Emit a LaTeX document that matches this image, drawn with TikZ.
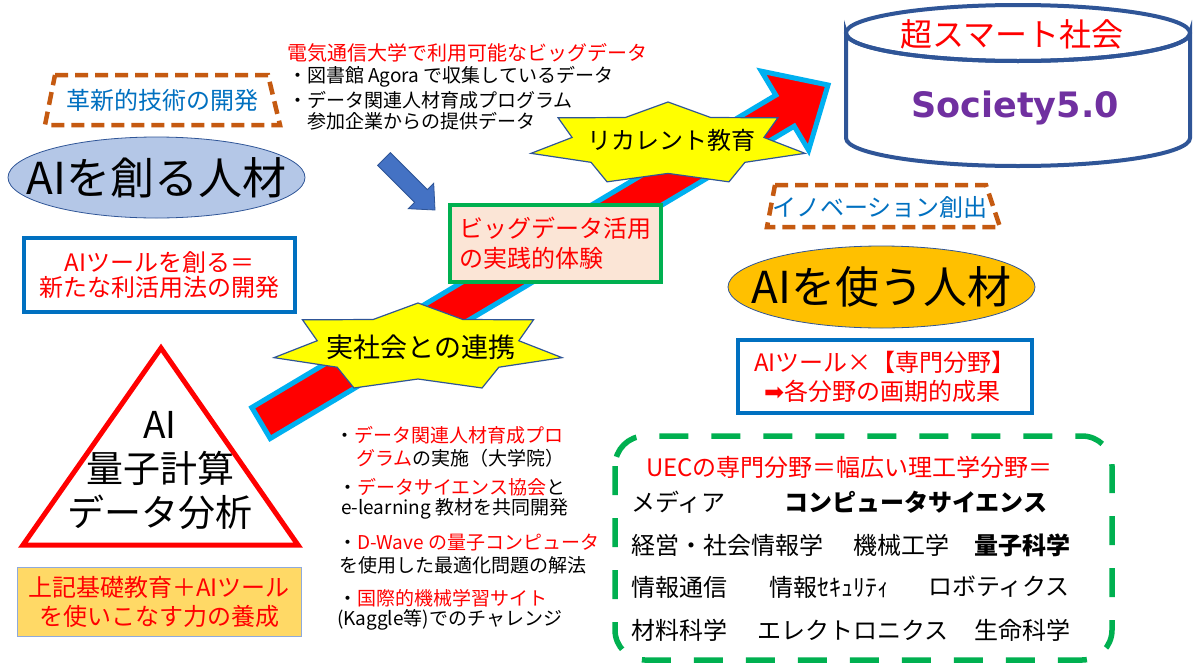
\documentclass[tikz,border=0pt]{standalone}
\usepackage{fontspec}
\setmainfont{Noto Sans CJK JP}
\newfontfamily\dvs{DejaVu Sans}
\usetikzlibrary{shapes.geometric,calc}
\definecolor{arrred}{HTML}{FF0000}
\definecolor{arrcyan}{HTML}{00B0F0}
\definecolor{staryel}{HTML}{FFFF00}
\definecolor{darkblue}{HTML}{2F5597}
\definecolor{grn}{HTML}{00B050}
\definecolor{peach}{HTML}{FBE5D6}
\definecolor{brn}{HTML}{C55A11}
\definecolor{tblue}{HTML}{0070C0}
\definecolor{lblue}{HTML}{B4C7E7}
\definecolor{gold}{HTML}{FFC000}
\definecolor{lgold}{HTML}{FFD966}
\definecolor{edgeblue}{HTML}{8FAADC}
\definecolor{midblue}{HTML}{4472C4}
\definecolor{purp}{HTML}{7030A0}
\definecolor{tred}{HTML}{FF0000}
\newcommand\fsz[2]{\fontsize{#1pt}{#2pt}\selectfont}
\tikzset{
  bigarrow/.style={fill=arrred, draw=arrcyan, line width=5pt, line join=miter},
  starsty/.style={fill=staryel, draw=darkblue, line width=1.2pt, line join=miter},
  dashtrap/.style={draw=brn, line width=4.5pt, dash pattern=on 13pt off 7pt},
  bluebox/.style={draw=tblue, line width=4pt, fill=white},
  txt/.style={inner sep=0pt, outer sep=0pt},
}
\begin{document}
\begin{tikzpicture}[x=1pt,y=-1pt]
\useasboundingbox[fill=white] (0,0) rectangle (1193,664);

% big red arrow
\filldraw[bigarrow] (251.8,407.5) -- (775.8,95.2) -- (761.4,71.2) -- (828,85) -- (808.6,150.2) -- (794.2,126.2) -- (270.2,438.5) -- cycle;

% small blue arrow
\filldraw[fill=midblue, draw=darkblue, line width=0.8pt] (390.4,152.6) -- (427.4,189.6) -- (433.7,183.3) -- (435,210) -- (408.3,208.7) -- (414.6,202.4) -- (377.6,165.4) -- cycle;

% stars
\begin{scope}[shift={(418,347.7)}]
\filldraw[starsty] (-90:147.7 and 44.7) \foreach \k in {1,...,7}{ -- ({-90+(\k-0.5)*360/7}:103.4 and 31.3) -- ({-90+\k*360/7}:147.7 and 44.7)} -- cycle;
\end{scope}
\begin{scope}[shift={(668,144)}]
\filldraw[starsty] (-90:140.5 and 42) \foreach \k in {1,...,7}{ -- ({-90+(\k-0.5)*360/7}:98.4 and 29.4) -- ({-90+\k*360/7}:140.5 and 42)} -- cycle;
\end{scope}
\node[txt, font=\fsz{27}{30}] (renkei) at (421,347) {実社会との連携};
\node[txt, font=\fsz{24}{28}] (recurrent) at (671,140) {リカレント教育};

% green box
\node[draw=grn, fill=peach, line width=4pt, minimum width=211pt, minimum height=77pt, align=left, text=tred, inner sep=0pt, font=\fsz{24}{30}] (bigdata) at (555.5,243.5) {ビッグデータ活用\\の実践的体験};

% top text
\node[txt, anchor=west, text=tred, font=\fsz{20}{24}] (t0) at (287,53) {電気通信大学で利用可能なビッグデータ};
\node[txt, anchor=west, font=\fsz{19}{22}] (t1) at (288,77) {・図書館 Agora で収集しているデータ};
\node[txt, anchor=west, font=\fsz{19}{22}] (t2) at (288,100) {・データ関連人材育成プログラム};
\node[txt, anchor=west, font=\fsz{19}{22}] (t3) at (307,121) {参加企業からの提供データ};

% left column
\draw[dashtrap] (55,75) -- (268,75) -- (280,125) -- (45,125) -- cycle;
\node[txt, text=tblue, font=\fsz{24}{28}] (kakushin) at (162,100) {革新的技術の開発};

\node[ellipse, draw=darkblue, fill=lblue, line width=0.8pt, minimum width=297pt, minimum height=81pt, inner sep=0pt] (tsukuru) at (156.5,177.5) {};
\node[txt, font=\fsz{44}{48}] (tsukurutxt) at (tsukuru.center) {AIを創る人材};

\node[bluebox, minimum width=271pt, minimum height=74pt, align=center, text=tred, inner sep=0pt, font=\fsz{24}{25.5}] (toolbox) at (159.5,275) {AIツールを創る＝\\新たな利活用法の開発};

\draw[draw=red, line width=5pt, line join=miter] (161,348) -- (298,545) -- (23,545) -- cycle;
\node[txt, align=center, font=\fsz{37}{44}] (tri) at (160,471) {AI\\量子計算\\データ分析};

\node[draw=edgeblue, fill=lgold, line width=1pt, minimum width=284pt, minimum height=69pt, align=center, text=tred, inner sep=0pt, font=\fsz{24}{29}] (kiso) at (159,602) {上記基礎教育＋AIツール\\を使いこなす力の養成};

% bottom middle text
\tikzset{mid/.style={txt, anchor=west, font=\fsz{19}{22}}}
\node[mid] (b1) at (335,435) {・\textcolor{tred}{データ関連人材育成プロ}};
\node[mid] (b2) at (356,458) {\textcolor{tred}{グラム}の実施（大学院）};
\node[mid] (b3) at (338,487) {・\textcolor{tred}{データサイエンス協会}と};
\node[mid] (b4) at (341,509) {e-learning 教材を共同開発};
\node[mid] (b5) at (338,543) {・\textcolor{tred}{D-Wave の量子コンピュータ}};
\node[mid] (b6) at (339,565) {を使用した最適化問題の解法};
\node[mid] (b7) at (338,598) {・\textcolor{tred}{国際的機械学習サイト}};
\node[mid] (b8) at (337,620) {(Kaggle等)でのチャレンジ};

% cylinder
\filldraw[fill=white, draw=darkblue, line width=4pt] (846,33) -- (846,138) arc[start angle=180, end angle=0, x radius=172, y radius=28] -- (1190,33) arc[start angle=0, end angle=180, x radius=172, y radius=28] -- cycle;
\draw[draw=darkblue, line width=4pt] (1018,33) ellipse[x radius=172, y radius=28];
\node[txt, text=tred, font=\fsz{32}{36}] (chosmart) at (1012,34) {超スマート社会};
\node[txt, text=purp, font=\dvs\bfseries\fsz{35}{40}] (society) at (1015,108) {Society5.0};

% right column
\draw[dashtrap] (775,185) -- (986,185) -- (1000,227) -- (767,227) -- cycle;
\node[txt, text=tblue, font=\fsz{24}{28}] (innov) at (880,207) {イノベーション創出};

\node[ellipse, draw=darkblue, fill=gold, line width=0.8pt, minimum width=307pt, minimum height=82pt, inner sep=0pt] (tsukau) at (881.5,287) {};
\node[txt, font=\fsz{44}{48}] (tsukautxt) at (tsukau.center) {AIを使う人材};

\node[bluebox, minimum width=294pt, minimum height=73pt, align=left, text=tred, inner sep=0pt, font=\fsz{24}{29}] (senmon) at (885,376.5) {AIツール×【専門分野】\\\hspace*{10pt}{\dvs ➡}各分野の画期的成果};

% green dashed rounded box
\draw[draw=grn, line width=5.5pt, rounded corners=30pt, dash pattern=on 29pt off 23pt] (615,436) rectangle (1112,660);
\tikzset{fld/.style={txt, anchor=west, font=\fsz{24}{28}}}
\node[fld, text=tred] (uec) at (646,467) {UECの専門分野＝幅広い理工学分野＝};
\node[fld] (r1a) at (631,502) {メディア};
\node[fld, font=\fsz{24}{28}\bfseries] (r1b) at (784,502) {コンピュータサイエンス};
\node[fld] (r2a) at (631,545) {経営・社会情報学};
\node[fld] (r2b) at (853,545) {機械工学};
\node[fld, font=\fsz{24}{28}\bfseries] (r2c) at (974,545) {量子科学};
\node[fld] (r3a) at (631,587) {情報通信};
\node[fld] (r3b) at (769,587) {情報ｾｷｭﾘﾃｨ};
\node[fld] (r3c) at (928,587) {ロボティクス};
\node[fld] (r4a) at (631,630) {材料科学};
\node[fld] (r4b) at (757,630) {エレクトロニクス};
\node[fld] (r4c) at (974,630) {生命科学};
\end{tikzpicture}
\end{document}
